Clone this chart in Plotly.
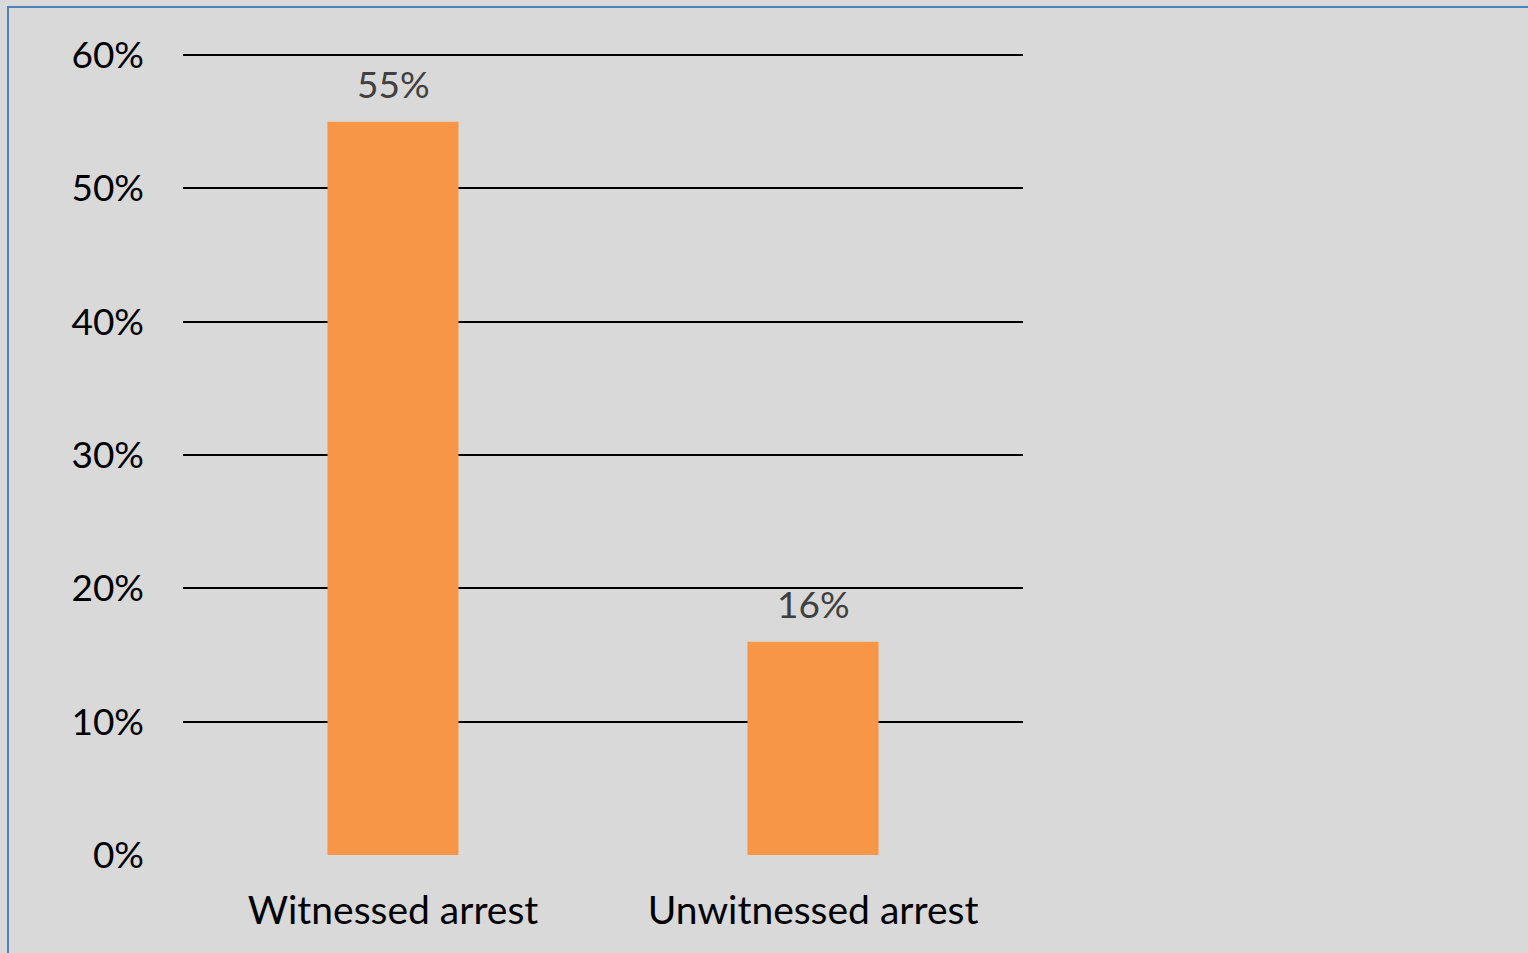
import plotly.graph_objects as go

categories = ["Witnessed arrest", "Unwitnessed arrest"]
values = [0.55, 0.16]
tick_vals = [0, 0.1, 0.2, 0.3, 0.4, 0.5, 0.6]

W, H = 1528, 953
ml, mr, mt, mb = 183, 505, 54, 98
pw, ph = W - ml - mr, H - mt - mb

def px_x(p):
    return (p - ml) / pw

def px_y(p):
    return (H - mb - p) / ph

fig = go.Figure(go.Bar(
    x=categories, y=values,
    marker=dict(color="#F79646", line=dict(width=0)),
    width=0.312,
    cliponaxis=False,
))

for c, v in zip(categories, values):
    fig.add_annotation(x=c, y=v, text=f"{v:.0%}", showarrow=False,
                       yanchor="bottom", yshift=14,
                       font=dict(family="Lato", size=37, color="#404040"))

fig.update_layout(
    width=W, height=H,
    margin=dict(l=ml, r=mr, t=mt, b=mb),
    paper_bgcolor="#D9D9D9", plot_bgcolor="#D9D9D9",
    showlegend=False,
    font=dict(family="Lato", size=37, color="#000000"),
    xaxis=dict(showgrid=False, showline=False, ticks="", ticklabelstandoff=29,
               tickfont=dict(family="Lato", size=39, color="#000000")),
    yaxis=dict(range=[0, 0.6008], tickvals=tick_vals, tickformat=".0%",
               showgrid=True, gridcolor="#000000", gridwidth=2,
               zeroline=True, zerolinecolor="#D9D9D9", zerolinewidth=3,
               showline=False, ticks="", ticklabelstandoff=38,
               tickfont=dict(family="Lato", size=37, color="#000000")),
    shapes=[
        dict(type="line", xref="paper", yref="paper",
             x0=px_x(8), x1=px_x(8), y0=px_y(6), y1=px_y(H + 5),
             line=dict(color="#4F81BD", width=2)),
        dict(type="line", xref="paper", yref="paper",
             x0=px_x(8), x1=px_x(W + 5), y0=px_y(7), y1=px_y(7),
             line=dict(color="#4F81BD", width=2)),
    ],
)

fig.write_html(
    "out.html",
    config={"displayModeBar": False},
    post_script="document.body.style.margin='0';document.body.style.background='#D9D9D9';document.body.style.overflow='hidden';",
)
